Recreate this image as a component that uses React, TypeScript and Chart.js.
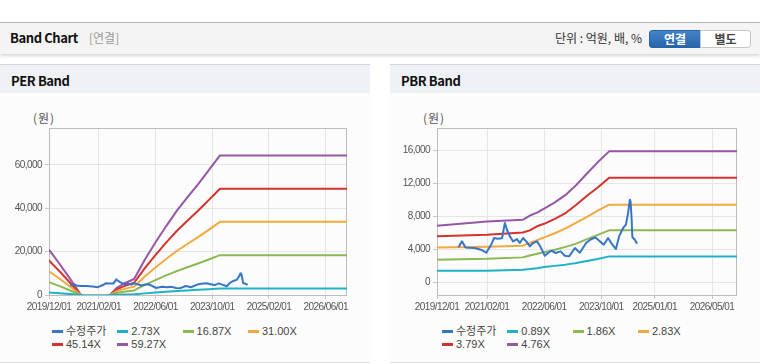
import React, { useEffect, useRef } from 'react';
import { Chart, registerables } from 'chart.js';
Chart.register(...registerables);

// ---------- data ----------
const perTickMonths = [0, 14, 30, 46, 62, 78];
const perTickLabels = ['2019/12/01', '2021/02/01', '2022/06/01', '2023/10/01', '2025/02/01', '2026/06/01'];
const pbrTickMonths = [0, 14, 30, 46, 61, 77];
const pbrTickLabels = ['2019/12/01', '2021/02/01', '2022/06/01', '2023/10/01', '2025/01/01', '2026/05/01'];
const perYTicks = [0, 20000, 40000, 60000];
const pbrYTicks = [0, 4000, 8000, 12000, 16000];

const priceMonths = [6, 7, 8, 9, 10.5, 12.3, 13.8, 15.2, 16, 17, 18.2, 19, 19.6, 20.4, 21.3, 22.4, 23.2, 24.1, 25.2, 26, 26.9, 28, 28.9, 30.2, 31.1, 32, 33.2, 34.6, 35.8, 37, 38.6, 40, 41.8, 43, 44.4, 45.6, 46.7, 47.9, 48.8, 50.1, 51, 52.1, 52.9, 53.5, 54, 54.2, 54.5, 54.7, 55.4, 56];
const priceValues = [4250, 4970, 4240, 4200, 4170, 3960, 3600, 4600, 5380, 5300, 5340, 7200, 6380, 5580, 4970, 5250, 4770, 5380, 4850, 4370, 4770, 4970, 4370, 3230, 3560, 3840, 3560, 3760, 3230, 3150, 4170, 3600, 4800, 5200, 5450, 4970, 4570, 5380, 4770, 4040, 5580, 6590, 6990, 8400, 10020, 9820, 7600, 5500, 5170, 4690];

const perBandMonths = [0, 3, 6, 9, 10, 16, 17.2, 19, 21, 24, 27, 30, 33, 36, 39, 42, 45, 48.2, 84];
const perBand273 = [1150, 800, 420, 0, -110, -110, 0, 150, 240, 340, 750, 1120, 1460, 1790, 2070, 2400, 2700, 3050, 3050];
const perBand1687 = [5950, 4070, 2080, 0, -680, -680, 0, 910, 1480, 2110, 4640, 6890, 9020, 11040, 12810, 14540, 16360, 18400, 18400];
const perBand3100 = [10930, 7480, 3820, 0, -1260, -1260, 0, 1670, 2720, 3870, 8520, 12660, 16580, 20290, 23540, 26730, 30070, 33750, 33750];
const perBand4514 = [15920, 10890, 5560, 0, -1830, -1830, 0, 2440, 3960, 5640, 12410, 18430, 24140, 29550, 34270, 38920, 43790, 49050, 49050];
const perBand5927 = [20900, 14300, 7300, 0, -2400, -2400, 0, 3200, 5200, 7400, 16300, 24200, 31700, 38800, 45000, 51100, 57500, 64400, 64400];

const pbrBandMonths = [0, 14, 24, 26, 28, 30, 33, 36, 39, 42, 45, 48.2, 84];
const pbrBand089 = [1420, 1420, 1540, 1620, 1720, 1850, 2000, 2150, 2350, 2580, 2830, 3150, 3150];
const pbrBand186 = [2750, 2850, 3030, 3250, 3480, 3650, 3950, 4300, 4700, 5250, 5750, 6310, 6310];
const pbrBand283 = [4240, 4330, 4450, 4780, 5100, 5450, 5950, 6550, 7250, 7950, 8700, 9410, 9410];
const pbrBand379 = [5580, 5780, 6040, 6300, 6800, 7100, 7700, 8400, 9400, 10500, 11500, 12690, 12690];
const pbrBand476 = [6870, 7390, 7580, 8100, 8450, 8950, 9700, 10600, 11800, 13200, 14550, 15880, 15880];

const perLabels = ['수정주가', '2.73X', '16.87X', '31.00X', '45.14X', '59.27X'];
const pbrLabels = ['수정주가', '0.89X', '1.86X', '2.83X', '3.79X', '4.76X'];
const seriesColors = ['#3776c5', '#1fb2c6', '#8cb852', '#f2a93e', '#d3322d', '#9657a6'];

// ---------- helpers ----------
const pts = (xs: number[], ys: number[]) => xs.map((x, i) => ({ x, y: ys[i] }));

const TICK_FONT = { family: '"Liberation Sans", Arial, sans-serif', size: 10 };

const boxPlugin = {
  id: 'plotBox',
  beforeInit(chart: any) {
    try {
      chart.ctx.letterSpacing = '-0.55px';
    } catch (e) {}
  },
  beforeDraw(chart: any) {
    try {
      chart.ctx.letterSpacing = '-0.55px';
    } catch (e) {}
  },
  beforeDatasetsDraw(chart: any) {
    const { ctx, chartArea: a } = chart;
    ctx.save();
    ctx.strokeStyle = '#bdbdbd';
    ctx.lineWidth = 1;
    ctx.strokeRect(Math.round(a.left) + 0.5, Math.round(a.top) + 0.5, Math.round(a.right - a.left) - 1, Math.round(a.bottom - a.top));
    ctx.restore();
  },
};

type Cfg = {
  bandMonths: number[];
  bands: number[][];
  tickMonths: number[];
  tickLabels: string[];
  yTicks: number[];
  yMin: number;
  yMax: number;
  yWidth: number;
  labels: string[];
};

function BandPanel({ left, title, cfg }: { left: number; title: string; cfg: Cfg }) {
  const ref = useRef<HTMLCanvasElement>(null);
  useEffect(() => {
    const datasets: any[] = [
      {
        label: cfg.labels[0],
        data: pts(priceMonths, priceValues),
        borderColor: seriesColors[0],
        borderWidth: 2,
        pointRadius: 0,
        order: 0,
      },
      ...cfg.bands.map((b, i) => ({
        label: cfg.labels[i + 1],
        data: pts(cfg.bandMonths, b),
        borderColor: seriesColors[i + 1],
        borderWidth: 2,
        pointRadius: 0,
        order: 1,
      })),
    ];
    const chart = new Chart(ref.current!, {
      type: 'line',
      data: { datasets },
      options: {
        animation: false,
        responsive: false,
        maintainAspectRatio: false,
        layout: { padding: { top: 28, right: 23, left: 0, bottom: 0 } },
        plugins: { legend: { display: false }, tooltip: { enabled: false } },
        elements: { line: { tension: 0, borderJoinStyle: 'round' } },
        scales: {
          x: {
            type: 'linear',
            min: 0,
            max: 84,
            afterBuildTicks: (s: any) => {
              s.ticks = cfg.tickMonths.map((v) => ({ value: v }));
            },
            afterFit: (s: any) => {
              s.height = 20;
            },
            ticks: {
              autoSkip: false,
              maxRotation: 0,
              padding: 2,
              color: '#555',
              font: TICK_FONT,
              callback: (_v: any, i: number) => cfg.tickLabels[i],
            },
            grid: { color: '#e6e6e6', tickLength: 4, tickColor: '#c8c8c8' },
            border: { display: false },
          },
          y: {
            min: cfg.yMin,
            max: cfg.yMax,
            afterBuildTicks: (s: any) => {
              s.ticks = cfg.yTicks.map((v) => ({ value: v }));
            },
            afterFit: (s: any) => {
              s.width = cfg.yWidth;
            },
            ticks: {
              padding: 3,
              color: '#555',
              font: TICK_FONT,
              callback: (v: any) => Number(v).toLocaleString('en-US'),
            },
            grid: { color: '#e6e6e6', tickLength: 4, tickColor: '#c8c8c8' },
            border: { display: false },
          },
        },
      } as any,
      plugins: [boxPlugin],
    });
    return () => chart.destroy();
  }, []);

  const legendItems = cfg.labels.map((lab, i) => {
    const col = i % 4;
    const row = Math.floor(i / 4);
    return (
      <div
        key={lab}
        style={{
          position: 'absolute',
          left: 52 + col * 65.3,
          top: 330 - 64 + row * 13.3 - 7,
          height: 14,
          display: 'flex',
          alignItems: 'center',
          whiteSpace: 'nowrap',
        }}
      >
        <span style={{ display: 'inline-block', width: 11, height: 3, background: seriesColors[i], marginRight: 3 }} />
        <span style={{ fontSize: 11, color: '#444', fontFamily: '"Liberation Sans", Arial, "Noto Sans CJK KR", sans-serif', lineHeight: '14px' }}>{lab}</span>
      </div>
    );
  });

  return (
    <div
      style={{
        position: 'absolute',
        left,
        top: 64,
        width: 370,
        height: 299,
        boxSizing: 'border-box',
        borderTop: '1px solid #d4d4d4',
        borderBottom: '1px solid #dcdcdc',
        background: '#fcfcfc',
      }}
    >
      <div style={{ position: 'absolute', left: 0, top: 0, width: 370, height: 28, background: '#eef1f6' }} />
      <div
        style={{
          position: 'absolute',
          left: 11,
          top: 7,
          lineHeight: '18px',
          fontSize: 13,
          letterSpacing: '-0.4px',
          fontWeight: 700,
          color: '#111',
          fontFamily: '"Noto Sans CJK KR", "Noto Sans", sans-serif',
        }}
      >
        {title}
      </div>
      <div
        style={{
          position: 'absolute',
          left: 33,
          top: 118 - 65 - 8,
          lineHeight: '16px',
          fontSize: 12,
          letterSpacing: '1px',
          color: '#555',
          fontFamily: '"Noto Sans CJK KR", sans-serif',
        }}
      >
        (원)
      </div>
      <canvas ref={ref} width={370} height={215} style={{ position: 'absolute', left: 0, top: 100 - 65, width: 370, height: 215 }} />
      {legendItems}
    </div>
  );
}

export default function App() {
  const perCfg: Cfg = {
    bandMonths: perBandMonths,
    bands: [perBand273, perBand1687, perBand3100, perBand4514, perBand5927],
    tickMonths: perTickMonths,
    tickLabels: perTickLabels,
    yTicks: perYTicks,
    yMin: 0,
    yMax: 77070,
    yWidth: 49,
    labels: perLabels,
  };
  const pbrCfg: Cfg = {
    bandMonths: pbrBandMonths,
    bands: [pbrBand089, pbrBand186, pbrBand283, pbrBand379, pbrBand476],
    tickMonths: pbrTickMonths,
    tickLabels: pbrTickLabels,
    yTicks: pbrYTicks,
    yMin: -1530,
    yMax: 18710,
    yWidth: 47,
    labels: pbrLabels,
  };
  const kr = '"Noto Sans CJK KR", "Noto Sans", sans-serif';
  return (
    <div style={{ position: 'absolute', left: 0, top: 0, width: 760, height: 364, background: '#fff', overflow: 'hidden' }}>
      <div
        style={{
          position: 'absolute',
          left: 0,
          top: 22,
          width: 760,
          height: 32,
          boxSizing: 'border-box',
          borderTop: '1px solid #b8b8b8',
          background: '#f4f4f4',
          boxShadow: '0 2px 3px rgba(0,0,0,0.16)',
        }}
      />
      <div style={{ position: 'absolute', left: 10, top: 29, lineHeight: '18px', fontSize: 13, letterSpacing: '-0.4px', fontWeight: 700, color: '#111', fontFamily: kr }}>
        Band Chart
      </div>
      <div style={{ position: 'absolute', left: 89, top: 29, lineHeight: '18px', fontSize: 12, color: '#999', fontFamily: kr }}>[연결]</div>
      <div style={{ position: 'absolute', right: 118, top: 29, lineHeight: '18px', fontSize: 12, color: '#333', fontFamily: kr }}>
        단위 : 억원, 배, %
      </div>
      <div
        style={{
          position: 'absolute',
          left: 649,
          top: 30,
          width: 52,
          height: 18,
          boxSizing: 'border-box',
          background: 'linear-gradient(#4283c9, #2965ad)',
          border: '1px solid #2a62a6',
          borderRadius: '3px 0 0 3px',
          color: '#fff',
          fontSize: 12,
          fontWeight: 700,
          lineHeight: '16px',
          textAlign: 'center',
          fontFamily: kr,
        }}
      >
        연결
      </div>
      <div
        style={{
          position: 'absolute',
          left: 700,
          top: 30,
          width: 51,
          height: 18,
          boxSizing: 'border-box',
          background: '#fff',
          border: '1px solid #c6c6c6',
          borderRadius: '0 3px 3px 0',
          color: '#444',
          fontSize: 12,
          fontWeight: 700,
          lineHeight: '16px',
          textAlign: 'center',
          fontFamily: kr,
        }}
      >
        별도
      </div>
      <BandPanel left={0} title="PER Band" cfg={perCfg} />
      <BandPanel left={390} title="PBR Band" cfg={pbrCfg} />
    </div>
  );
}
